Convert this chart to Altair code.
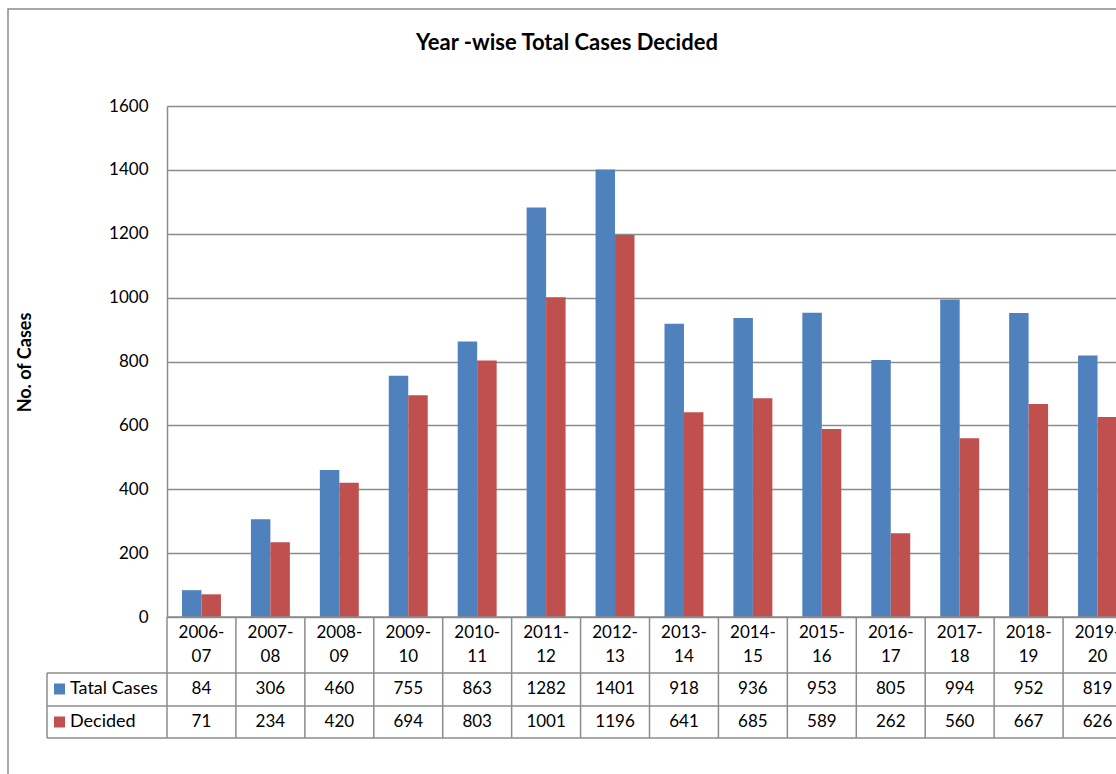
import altair as alt
import pandas as pd

# ---------------- data ----------------
years = ["2006-07", "2007-08", "2008-09", "2009-10", "2010-11", "2011-12", "2012-13",
         "2013-14", "2014-15", "2015-16", "2016-17", "2017-18", "2018-19", "2019-20"]
total_cases = [84, 306, 460, 755, 863, 1282, 1401, 918, 936, 953, 805, 994, 952, 819]
decided = [71, 234, 420, 694, 803, 1001, 1196, 641, 685, 589, 262, 560, 667, 626]
series = ["Tatal Cases", "Decided"]
colors = ["#4F81BD", "#C0504D"]
y_ticks = [0, 200, 400, 600, 800, 1000, 1200, 1400, 1600]
title_text = "Year -wise Total Cases Decided"
y_title = "No. of Cases"

rows = []
for i, yr in enumerate(years):
    rows.append({"year": yr, "series": series[0], "value": total_cases[i]})
    rows.append({"year": yr, "series": series[1], "value": decided[i]})
df = pd.DataFrame(rows)
years_df = pd.DataFrame({"year": years})
series_df = pd.DataFrame({"series": series})
one = pd.DataFrame({"k": [0]})

# ---------------- layout ----------------
W = 949          # visible plot width (chart is cut at window edge)
FULL = 965       # full category range (14 columns)
H = 511
GRID = "#8c8c8c"
FONT = "Lato"
NUM = 17         # numbers / header size
TXT = 18         # legend text size

x_scale = alt.Scale(domain=years, range=[0, FULL], paddingInner=0, paddingOuter=0)
X = alt.X("year:N", scale=x_scale, axis=None, sort=years)
color = alt.Color("series:N", scale=alt.Scale(domain=series, range=colors), legend=None)

bars = alt.Chart(df).mark_bar().encode(
    x=X,
    xOffset=alt.XOffset("series:N", sort=series,
                        scale=alt.Scale(domain=series, paddingInner=0, paddingOuter=0.77)),
    y=alt.Y("value:Q", scale=alt.Scale(domain=[0, 1600], nice=False),
            axis=alt.Axis(values=y_ticks, format="d", grid=True, gridColor=GRID, gridWidth=1.5,
                          domainColor=GRID, domainWidth=1.5, ticks=False,
                          labelFontSize=NUM, labelFont=FONT, labelColor="black",
                          labelPadding=19, title=y_title, titleFont=FONT,
                          titleFontSize=18, titleFontWeight="bold", titleColor="black",
                          titleX=-142, titleY=256, titleAngle=270,
                          titleAlign="center", titleBaseline="middle")),
    color=color,
)


def hrule(y, x1, x2):
    return alt.Chart(one).mark_rule(color=GRID, strokeWidth=1.5).encode(
        x=alt.value(x1), x2=alt.value(x2), y=alt.value(y))


def vrule(x, y1, y2):
    return alt.Chart(one).mark_rule(color=GRID, strokeWidth=1.5).encode(
        x=alt.value(x), y=alt.value(y1), y2=alt.value(y2))


# table column separators
vlines = alt.Chart(years_df).mark_rule(color=GRID, strokeWidth=1.5).encode(
    x=alt.X("year:N", scale=x_scale, axis=None, sort=years, bandPosition=0),
    y=alt.value(H), y2=alt.value(632),
)

table_lines = [
    hrule(H, 0, W),
    hrule(567, -120, W),
    hrule(600, -120, W),
    hrule(632, -120, W),
    vrule(-120, 567, 632),
]

head_top = alt.Chart(years_df).transform_calculate(
    t="substring(datum.year, 0, 5)"
).mark_text(fontSize=NUM, font=FONT, color="black", baseline="middle").encode(
    x=X, y=alt.value(527), text="t:N")
head_bot = alt.Chart(years_df).transform_calculate(
    t="substring(datum.year, 5)"
).mark_text(fontSize=NUM, font=FONT, color="black", baseline="middle").encode(
    x=X, y=alt.value(551), text="t:N")

row_y = {series[0]: 583, series[1]: 616}
row_layers = []
for s in series:
    row_layers.append(
        alt.Chart(df).transform_filter(alt.datum.series == s)
        .mark_text(fontSize=NUM, font=FONT, color="black", baseline="middle")
        .encode(x=X, y=alt.value(row_y[s]), text="value:Q"))
    row_layers.append(
        alt.Chart(series_df).transform_filter(alt.datum.series == s)
        .mark_square(size=121, opacity=1)
        .encode(x=alt.value(-107.5), y=alt.value(row_y[s]), color=color))
    row_layers.append(
        alt.Chart(series_df).transform_filter(alt.datum.series == s)
        .mark_text(fontSize=TXT, font=FONT, color="black", baseline="middle", align="left")
        .encode(x=alt.value(-97), y=alt.value(row_y[s]), text="series:N"))

border = alt.Chart(one).mark_rect(fill=None, stroke=GRID, strokeWidth=1.5).encode(
    x=alt.value(-159), x2=alt.value(W + 60), y=alt.value(-97), y2=alt.value(H + 200))

title = alt.Chart(one).mark_text(fontSize=22, font=FONT, fontWeight="bold",
                                 color="black", baseline="middle").encode(
    x=alt.value(400), y=alt.value(-63), text=alt.value(title_text))

chart = alt.layer(
    border, bars, vlines, *table_lines, head_top, head_bot, *row_layers, title
).properties(
    width=W, height=H,
    autosize=alt.AutoSizeParams(type="none"),
    padding={"left": 167, "top": 106, "right": 0, "bottom": 157},
    background="white",
).configure_view(stroke=None)

chart.save("out.html", embed_options={"renderer": "svg", "actions": False})
